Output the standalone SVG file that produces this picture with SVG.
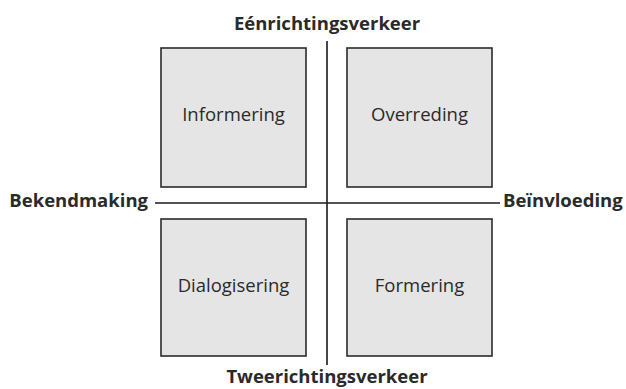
<svg xmlns="http://www.w3.org/2000/svg" width="626" height="389" viewBox="0 0 626 389">
<style>
.box{fill:#e5e5e6;stroke:#2b2b2b;stroke-width:1.6}
.ax{stroke:#1a1a1a;stroke-width:1.6;fill:none}
.lbl{font-family:"Open Sans","DejaVu Sans",sans-serif;font-size:18.5px;fill:#2a2a2a;text-anchor:middle}
.ttl{font-family:"Open Sans","DejaVu Sans",sans-serif;font-size:18.5px;font-weight:bold;fill:#2a2a2a}
</style>
<rect width="626" height="389" fill="#ffffff"/>
<g id="connectors">
<line class="ax" x1="327" y1="41" x2="327" y2="365"/>
<line class="ax" x1="155" y1="203" x2="500" y2="203"/>
</g>
<g id="informering"><rect class="box" x="161" y="48" width="145" height="139"/><text class="lbl" x="233.5" y="121">Informering</text></g>
<g id="overreding"><rect class="box" x="347" y="48" width="145" height="139"/><text class="lbl" x="419.5" y="121">Overreding</text></g>
<g id="dialogisering"><rect class="box" x="161" y="219" width="145" height="137"/><text class="lbl" x="233.5" y="292">Dialogisering</text></g>
<g id="formering"><rect class="box" x="347" y="219" width="145" height="137"/><text class="lbl" x="419.5" y="292">Formering</text></g>
<g id="labels">
<text class="ttl" x="327" y="30" text-anchor="middle">Eénrichtingsverkeer</text>
<text class="ttl" x="148" y="207" text-anchor="end">Bekendmaking</text>
<text class="ttl" x="503" y="207">Beïnvloeding</text>
<text class="ttl" x="327" y="383" text-anchor="middle">Tweerichtingsverkeer</text>
</g>
</svg>
